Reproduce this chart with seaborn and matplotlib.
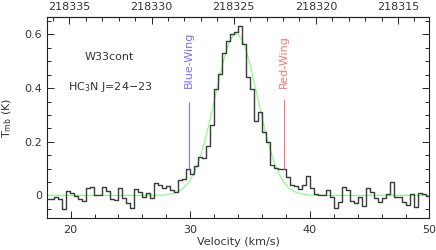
import matplotlib
matplotlib.use("Agg")
import matplotlib.pyplot as plt
import numpy as np
import pandas as pd
import seaborn as sns
from matplotlib.ticker import MultipleLocator

# spectrum channels (T_mb in K), channel grid
chan_first = 18.09  # km/s, centre of first channel
chan_width = 0.335  # km/s
t_mb = [
    -0.012, -0.015, -0.007, -0.015, -0.050, 0.016, 0.010, -0.002, -0.015, -0.020,
    0.028, 0.030, 0.000, 0.000, 0.032, 0.015, -0.013, -0.017, 0.026, -0.010,
    -0.030, -0.045, 0.025, 0.012, -0.005, 0.008, -0.010, 0.046, 0.040, 0.027,
    0.036, 0.022, 0.013, 0.059, 0.062, 0.100, 0.081, 0.108, 0.144, 0.140,
    0.184, 0.262, 0.398, 0.454, 0.531, 0.576, 0.602, 0.609, 0.631, 0.563,
    0.440, 0.395, 0.279, 0.310, 0.237, 0.200, 0.115, 0.102, 0.100, 0.100,
    0.068, 0.040, 0.034, 0.025, 0.038, 0.072, 0.026, 0.005, 0.000, 0.000,
    0.022, -0.005, -0.045, -0.024, 0.030, 0.020, -0.020, -0.030, -0.005, -0.040,
    0.029, 0.014, -0.011, -0.026, -0.011, 0.007, 0.051, -0.005, -0.007, -0.024,
    -0.036, 0.005, -0.042, 0.010, 0.005, -0.002,
]

# gaussian fit
fit_amp = 0.60
fit_center = 33.85
fit_fwhm = 4.2

# wing markers
wing_names = ["Blue-Wing", "Red-Wing"]
wing_vel = [29.9, 37.8]
wing_low = [0.10, 0.10]
wing_high = [0.35, 0.36]
wing_colors = ["#7474ff", "#ff7474"]

xtick_vals = [20, 30, 40, 50]
ytick_vals = [0, 0.2, 0.4, 0.6]
ytick_labels = ["0", "0.2", "0.4", "0.6"]
freq_ticks = [218335, 218330, 218325, 218320, 218315]

F0 = 218349.5  # MHz at v = 0
C_KMS = 299792.458

vel = chan_first + chan_width * np.arange(len(t_mb))
spec = pd.DataFrame({"v": vel, "T": t_mb})

v_fit = np.linspace(18, 50, 600)
sig = fit_fwhm / 2.3548
fit = pd.DataFrame({"v": v_fit, "T": fit_amp * np.exp(-0.5 * ((v_fit - fit_center) / sig) ** 2)})

sns.set_style("ticks")
plt.rcParams["font.family"] = ["DejaVu Sans"]
plt.rcParams["text.color"] = "#333333"

fig = plt.figure(figsize=(4.36, 2.5), dpi=100)
ax = fig.add_axes([0.107, 0.127, 0.878, 0.805])

sns.lineplot(data=fit, x="v", y="T", ax=ax, color="#7dff7d", lw=0.8, estimator=None)
sns.lineplot(
    data=spec, x="v", y="T", ax=ax, color="#3a3a3a", lw=1.0,
    drawstyle="steps-mid", estimator=None,
)

for name, v, lo, hi, c in zip(wing_names, wing_vel, wing_low, wing_high, wing_colors):
    ax.vlines(v, lo, hi, color=c, lw=0.8)
    ax.text(v, 0.40, name, rotation=90, ha="center", va="bottom", color=c, fontsize=8)

ax.text(21.2, 0.515, "W33cont", fontsize=8, va="center", ha="left")
ax.text(19.8, 0.403, "HC$_3$N J=24$-$23", fontsize=8, va="center", ha="left")

ax.set_xlim(18, 50)
ax.set_ylim(-0.085, 0.665)
ax.set_xticks(xtick_vals)
ax.set_yticks(ytick_vals)
ax.set_yticklabels(ytick_labels)
ax.xaxis.set_minor_locator(MultipleLocator(2))
ax.yaxis.set_minor_locator(MultipleLocator(0.05))
ax.tick_params(which="both", direction="in", right=True, top=False, labelsize=8,
               labelcolor="#333333", width=0.7)
ax.tick_params(which="major", length=5)
ax.tick_params(which="minor", length=3)
ax.tick_params(axis="x", pad=5)

secax = ax.secondary_xaxis(
    "top",
    functions=(lambda v: F0 * (1 - v / C_KMS), lambda f: (1 - f / F0) * C_KMS),
)
secax.set_xticks(freq_ticks)
secax.set_xticklabels([str(f) for f in freq_ticks])
secax.xaxis.set_minor_locator(MultipleLocator(1))
secax.tick_params(which="both", direction="in", labelsize=8, labelcolor="#333333", width=0.7)
secax.tick_params(which="major", length=5)
secax.tick_params(which="minor", length=3)

for s in ax.spines.values():
    s.set_linewidth(0.8)
    s.set_color("#222222")
secax.spines["top"].set_linewidth(0.8)

ax.set_xlabel("Velocity (km/s)", fontsize=8, color="#333333")
ax.set_ylabel("T$_{\\rm mb}$ (K)", fontsize=8, color="#333333")
ax.yaxis.set_label_coords(-0.085, 0.5)
ax.xaxis.set_label_coords(0.5, -0.095)

fig.savefig("out.png", dpi=100)
